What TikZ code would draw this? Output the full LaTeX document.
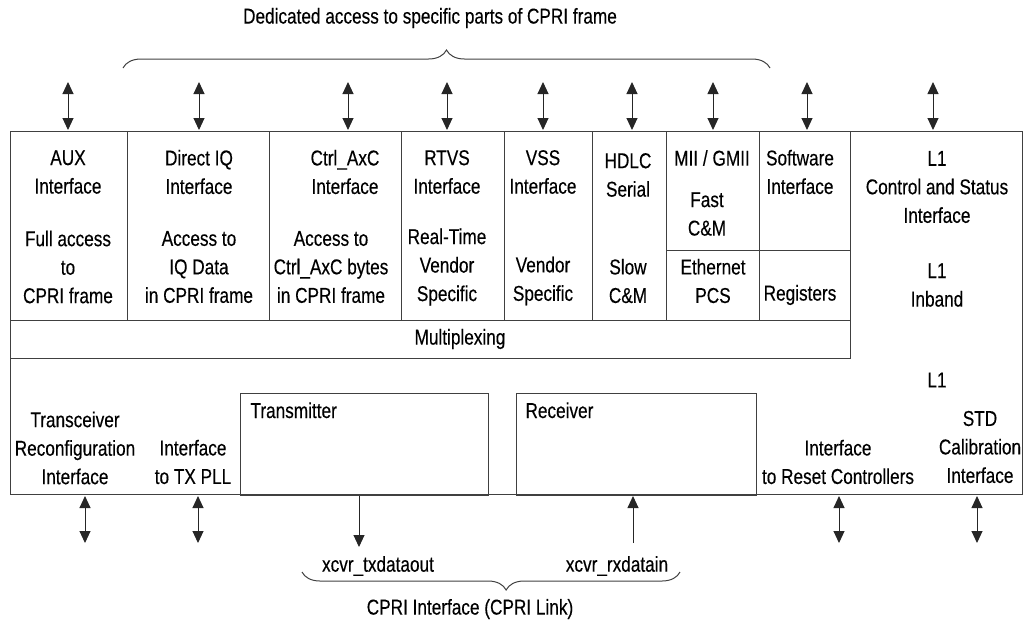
\documentclass[tikz,border=0pt]{standalone}
\usepackage{fontspec}
\setmainfont{Liberation Sans}[FakeStretch=0.8,FakeBold=0.3]
\usetikzlibrary{arrows.meta,decorations.pathreplacing}

\begin{document}
\begin{tikzpicture}[x=1pt, y=-1pt, line width=1pt,
    main/.style = {align=center, inner sep=0pt, font=\fontsize{21.5}{28.5}\selectfont},
    frame/.style = {draw=black!75},
    io/.style = {black!85, {Triangle[length=12pt,width=11pt]}-{Triangle[length=12pt,width=11pt]}},
    oneway/.style = {black!85, -{Triangle[length=12pt,width=11pt]}},
    brc/.style = {draw=black!75, decorate, decoration={brace, amplitude=18pt}}]
    \useasboundingbox (0,0) rectangle (1032,622);

    % outer frame and cells
    \draw[frame] (10,131) rectangle (1022,494);
    \draw[frame] (10,320) -- (850,320) -- (850,131);
    \draw[frame] (10,358) -- (850,358) -- (850,320);
    \foreach \x in {127,269,401,504,592,666,759}
        \draw[frame] (\x,131) -- (\x,320);
    \draw[frame] (666,250) -- (850,250);

    \node[frame, minimum width=248pt, minimum height=102pt, anchor=north west] (tx) at (240,393) {};
    \node[frame, minimum width=240pt, minimum height=102pt, anchor=north west] (rx) at (516,393) {};
    \node[main, anchor=base west] (txl) at (250,418) {Transmitter};
    \node[main, anchor=base west] (rxl) at (525,418) {Receiver};

    % texts
    \node[main] (aux)   at (68,172)  {AUX\\Interface};
    \node[main] (auxd)  at (68,267)  {Full access\\to\\CPRI frame};
    \node[main] (diq)   at (199,172) {Direct IQ\\Interface};
    \node[main] (diqd)  at (199,267) {Access to\\IQ Data\\in CPRI frame};
    \node[main] (ctrl)  at (345,172) {Ctrl\_AxC\\Interface};
    \node[main] (ctrld) at (331,267) {Access to\\Ctrl\_AxC bytes\\in CPRI frame};
    \node[main] (rtvs)  at (447,172) {RTVS\\Interface};
    \node[main] (rtvsd) at (447,267) {Real-Time\\Vendor\\Specific};
    \node[main] (vss)   at (543,172) {VSS\\Interface};
    \node[main] (vssd)  at (543,281) {Vendor\\Specific};
    \node[main] (hdlc)  at (628,175) {HDLC\\Serial};
    \node[main] (hdlcd) at (628,281) {Slow\\C\&M};
    \node[main] (mii)   at (712,158) {MII / GMII};
    \node[main] (fast)  at (707,214) {Fast\\C\&M};
    \node[main] (eth)   at (713,281) {Ethernet\\PCS};
    \node[main] (sw)    at (800,172) {Software\\Interface};
    \node[main] (reg)   at (800,295) {Registers};
    \node[main] (csr)   at (937,187) {L1\\Control and Status\\Interface};
    \node[main] (inb)   at (937,285) {L1\\Inband};
    \node[main] (mux)   at (460,339) {Multiplexing};
    \node[main] (l1)    at (937,380) {L1};
    \node[main] (cal)   at (980,447) {STD\\Calibration\\Interface};
    \node[main] (xcvr)  at (75,448)  {Transceiver\\Reconfiguration\\Interface};
    \node[main] (pll)   at (193,462) {Interface\\to TX PLL};
    \node[main] (rst)   at (838,462) {Interface\\to Reset Controllers};

    % arrows
    \foreach \x [count=\i] in {68,199,348,447,543,632,713,807,933} {
        \coordinate (up\i) at (\x,82);
        \coordinate (top\i) at (\x,130);
        \draw[io] (up\i) -- (top\i);
    }
    \foreach \x [count=\i] in {85,198,839,977} {
        \coordinate (bot\i) at (\x,496);
        \coordinate (dn\i) at (\x,543);
        \draw[io] (bot\i) -- (dn\i);
    }
    \coordinate (txo) at (359,547);
    \coordinate (rxi) at (633,543);
    \draw[oneway] (tx.south -| txo) -- (txo);
    \draw[oneway] (rxi) -- (rx.south -| rxi);
    \node[main] (txd) at (378,566) {xcvr\_txdataout};
    \node[main] (rxd) at (617,566) {xcvr\_rxdatain};

    % braces
    \draw[brc] (123,68) -- (770,68);
    \node[main] (ttl) at (430,18) {Dedicated access to specific parts of CPRI frame};
    \draw[brc, decoration={aspect=0.46}] (680,572) -- (302,572);
    \node[main] (link) at (470,609) {CPRI Interface (CPRI Link)};
\end{tikzpicture}
\end{document}
